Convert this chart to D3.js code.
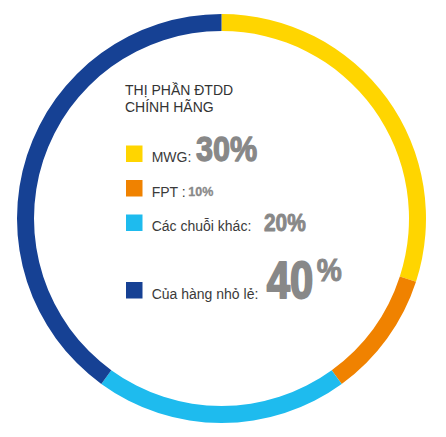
<!DOCTYPE html>
<html>

<head>
    <meta charset="UTF-8">
    <title>Thị phần ĐTDD</title>
    <script src="https://d3js.org/d3.v7.min.js"></script>
    <style>
        body {
            margin: 0;
            background-color: #fff;
        }
        text {
            font-family: Arial, "Liberation Sans", sans-serif;
        }
    </style>
</head>

<body>
    <div id="chart"></div>
    <script>
        // data
        var categories = ['MWG', 'FPT', 'Các chuỗi khác', 'Của hàng nhỏ lẻ'];
        var shares = [30, 10, 20, 40];
        var legendLabels = ['MWG:', 'FPT :', 'Các chuỗi khác:', 'Của hàng nhỏ lẻ:'];
        var shareLabels = ['30%', '10%', '20%', '40%'];
        var titleLines = ['THỊ PHẦN ĐTDD', 'CHÍNH HÃNG'];

        (function(d3) {

            var width = 446;
            var height = 437;
            var cx = 221.5, cy = 218.5;

            var colors = ['#FFD500', '#F08200', '#1EBBEE', '#164194'];

            // layout per legend row: baseline, number x, number size, horizontal squeeze, extra weight
            var rowBase = [162, 196.5, 231, 298.5];
            var numX = [196, 188.3, 264, 266.7];
            var numSize = [36, 12.5, 24, 51];
            var numSqueeze = [0.85, 1, 0.87, 0.82];
            var numStroke = [1.3, 0.3, 0.9, 2];

            var svg = d3.select('#chart')
                .append('svg')
                    .attr('width', width)
                    .attr('height', height);

            var ring = svg.append('g')
                .attr('transform', 'translate(' + cx + ',' + cy + ')');

            var arc = d3.arc()
                .innerRadius(187.5)
                .outerRadius(204.5);

            var pie = d3.pie()
                .value(function(d) { return d; })
                .sort(null);

            ring.selectAll('path')
                .data(pie(shares))
                .enter()
                .append('path')
                .attr('d', arc)
                .attr('fill', function(d, i) { return colors[i]; });

            // title
            svg.selectAll('text.title')
                .data(titleLines)
                .enter()
                .append('text')
                .attr('class', 'title')
                .attr('x', 125)
                .attr('y', function(d, i) { return 95.3 + i * 16.7; })
                .attr('font-size', 14)
                .attr('fill', '#333')
                .text(function(d) { return d; });

            // legend
            var rows = svg.selectAll('g.row')
                .data(categories)
                .enter()
                .append('g')
                .attr('class', 'row');

            rows.append('rect')
                .attr('x', 126)
                .attr('y', function(d, i) { return rowBase[i] - 16.5; })
                .attr('width', 16.5)
                .attr('height', 16.5)
                .attr('fill', function(d, i) { return colors[i]; });

            rows.append('text')
                .attr('x', 151.7)
                .attr('y', function(d, i) { return rowBase[i]; })
                .attr('font-size', 14)
                .attr('fill', '#3a3a3a')
                .text(function(d, i) { return legendLabels[i]; });

            rows.each(function(d, i) {
                var g = d3.select(this);
                var label = shareLabels[i];
                var num = g.append('text')
                    .attr('transform', 'translate(' + numX[i] + ',' + (rowBase[i] - numStroke[i] / 2) + ') scale(' + numSqueeze[i] + ',1)')
                    .attr('font-size', numSize[i])
                    .attr('font-weight', 'bold')
                    .attr('fill', '#888')
                    .attr('stroke', '#888')
                    .attr('stroke-width', numStroke[i])
                    .attr('stroke-linejoin', 'round');
                if (i === 3) {
                    // big number with raised percent sign
                    num.text(label.replace('%', ''));
                    g.append('text')
                        .attr('transform', 'translate(316.7,281) scale(0.88,1)')
                        .attr('font-size', 32)
                        .attr('font-weight', 'bold')
                        .attr('fill', '#888')
                        .attr('stroke', '#888')
                        .attr('stroke-width', 1)
                        .text('%');
                } else {
                    num.text(label);
                }
            });

        })(window.d3);
    </script>
</body>

</html>
